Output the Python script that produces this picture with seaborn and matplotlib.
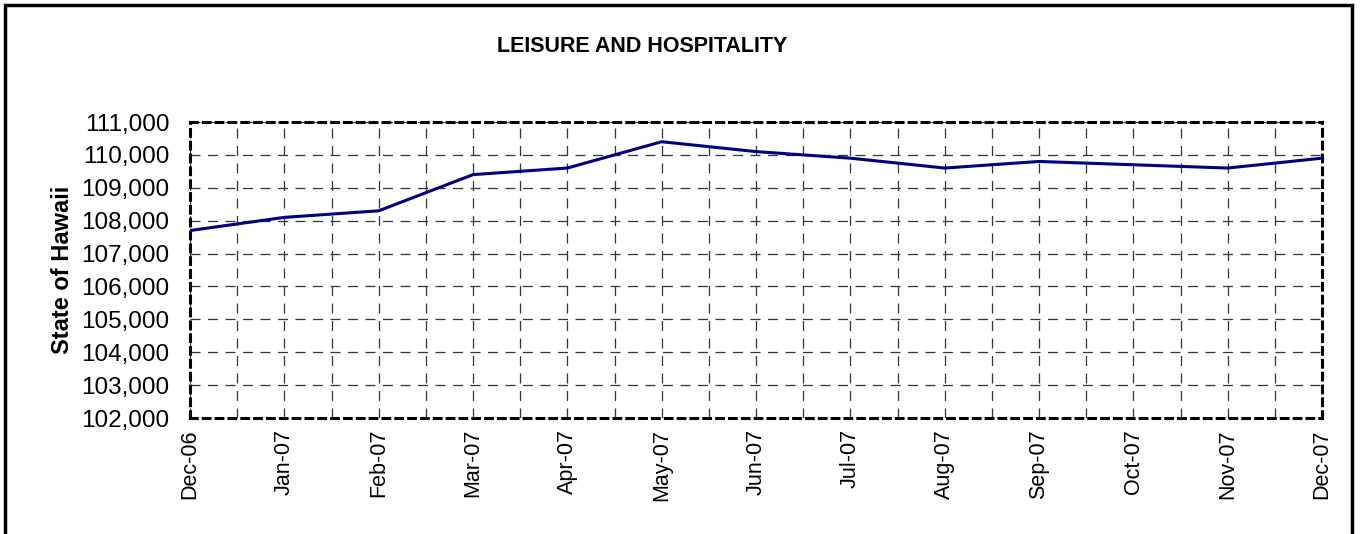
import matplotlib
matplotlib.use("Agg")
import matplotlib.pyplot as plt
from matplotlib.patches import Rectangle
from matplotlib.ticker import MultipleLocator, FuncFormatter
import seaborn as sns
import pandas as pd

months = ['Dec-06', 'Jan-07', 'Feb-07', 'Mar-07', 'Apr-07', 'May-07', 'Jun-07',
          'Jul-07', 'Aug-07', 'Sep-07', 'Oct-07', 'Nov-07', 'Dec-07']
jobs = [107700, 108100, 108300, 109400, 109600, 110400, 110100,
        109900, 109600, 109800, 109700, 109600, 109900]

df = pd.DataFrame({'pos': range(len(months)), 'month': months, 'jobs': jobs})

sns.set_style("white")
plt.rcParams['font.family'] = ['Liberation Sans', 'DejaVu Sans']
plt.rcParams['text.color'] = 'black'
plt.rcParams['axes.labelcolor'] = 'black'
plt.rcParams['xtick.color'] = 'black'
plt.rcParams['ytick.color'] = 'black'

fig = plt.figure(figsize=(13.61, 5.34), dpi=100)
ax = fig.add_axes([190 / 1361, 116 / 534, 1132 / 1361, 296 / 534])

sns.lineplot(data=df, x='pos', y='jobs', color='#000080', linewidth=2.2, ax=ax, zorder=5)

ax.set_xlim(0, len(months) - 1)
ax.set_ylim(102000, 111000)
ax.yaxis.set_major_locator(MultipleLocator(1000))
ax.yaxis.set_major_formatter(FuncFormatter(lambda v, p: f'{int(v):,}'))
ax.set_xticks(df['pos'])
ax.set_xticklabels(months, rotation=90)
ax.xaxis.set_minor_locator(MultipleLocator(0.5))

grid_style = dict(color='#333333', linestyle=(0, (8, 6)), linewidth=0.9)
ax.grid(True, which='major', axis='both', **grid_style)
ax.grid(True, which='minor', axis='x', **grid_style)

ax.tick_params(axis='both', which='major', direction='inout', length=8, width=1, color='black')
ax.tick_params(axis='y', labelsize=17.5, pad=11)
ax.tick_params(axis='x', labelsize=15.5, pad=4)
ax.tick_params(axis='x', which='minor', length=0)

for side in ['left', 'right', 'top', 'bottom']:
    ax.spines[side].set_visible(True)
    ax.spines[side].set_color('black')
    ax.spines[side].set_linewidth(2.2)
    ax.spines[side].set_linestyle((0, (2.2, 2)))

ax.set_xlabel('')
ax.set_ylabel('State of Hawaii', fontsize=17, fontweight='bold', va='center')
ax.yaxis.set_label_coords((62 - 190) / 1132, 0.5)

fig.text(642 / 1361, 1 - 47 / 534, 'LEISURE AND HOSPITALITY', ha='center', va='center',
         fontsize=15.5, fontweight='bold')

fig.patches.append(Rectangle((5 / 1361, -0.1), 1347 / 1361, 1.1 - 5 / 534,
                             transform=fig.transFigure, fill=False,
                             edgecolor='black', linewidth=2.5))

fig.savefig('out.png', dpi=100)
